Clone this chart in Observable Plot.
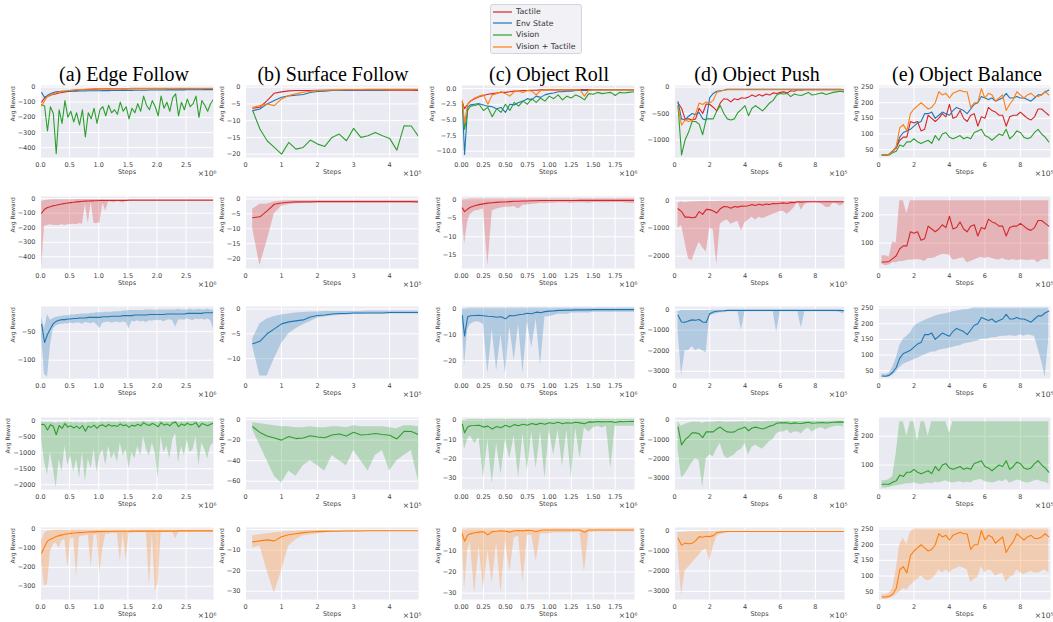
<!DOCTYPE html>
<html><head><meta charset="utf-8">
<script src="https://cdn.jsdelivr.net/npm/d3@7"></script>
<script src="https://cdn.jsdelivr.net/npm/@observablehq/plot@0.6"></script>
<style>
body{margin:0;background:#fff;}
#root{position:relative;width:1053px;height:622px;overflow:hidden;font-family:"DejaVu Sans",sans-serif;}
.panel{position:absolute;}
.title{position:absolute;width:300px;text-align:center;font-family:"Liberation Serif","Times New Roman",serif;font-size:20px;line-height:20px;color:#000;white-space:nowrap;}
#legend{position:absolute;left:490px;top:4px;width:90px;height:48px;border:1px solid #d4d4dc;border-radius:3px;background:#f1f1f6;}
.lg{position:absolute;left:2px;height:10px;font-size:7.8px;color:#333;white-space:nowrap;line-height:10px;}
.lg svg{vertical-align:middle;margin-right:4px;}
</style></head><body><div id="root"></div>
<script>
// ---------- categories ----------
const modalities = ["Tactile", "Env State", "Vision", "Vision + Tactile"];
const colors = ["#d62728", "#1f77b4", "#2ca02c", "#ff7f0e"];
const taskTitles = ["(a) Edge Follow", "(b) Surface Follow", "(c) Object Roll", "(d) Object Push", "(e) Object Balance"];

// ---------- Edge Follow (steps x10^6) ----------
const edgeSteps = [0.02,0.07,0.12,0.17,0.22,0.27,0.32,0.37,0.42,0.47,0.52,0.57,0.62,0.67,0.72,0.77,0.82,0.87,0.92,0.97,1.02,1.07,1.12,1.17,1.22,1.27,1.32,1.37,1.42,1.47,1.52,1.57,1.62,1.67,1.72,1.77,1.82,1.87,1.92,1.97,2.02,2.07,2.12,2.17,2.22,2.27,2.32,2.37,2.42,2.47,2.52,2.57,2.62,2.67,2.72,2.77,2.82,2.87,2.92,2.97];
const edgeTactileMean = [-100,-72,-60,-55,-48,-45,-40,-36,-33,-30,-27,-25,-22,-20,-18,-17,-16,-15,-14,-14,-13,-13,-13,-12,-12,-12,-12,-12,-12,-12,-11,-11,-11,-11,-11,-11,-11,-11,-11,-11,-11,-11,-11,-11,-11,-11,-11,-11,-11,-11,-11,-11,-11,-11,-11,-11,-11,-11,-11,-11];
const edgeTactileLo = [-470,-190,-185,-180,-185,-185,-185,-180,-185,-180,-180,-175,-180,-170,-175,-40,-170,-25,-170,-170,-165,-30,-85,-20,-25,-30,-18,-25,-30,-20,-18,-16,-16,-15,-15,-15,-15,-15,-15,-15,-14,-14,-14,-14,-14,-14,-14,-14,-14,-14,-14,-14,-14,-14,-14,-14,-14,-14,-14,-14];
const edgeTactileHi = [-20,-12,-10,-9,-8,-8,-7,-7,-7,-7,-7,-7,-6,-6,-6,-6,-6,-6,-6,-6,-6,-6,-6,-6,-6,-6,-6,-6,-6,-6,-6,-6,-6,-6,-6,-6,-6,-6,-6,-6,-6,-6,-6,-6,-6,-6,-6,-6,-6,-6,-6,-6,-6,-6,-6,-6,-6,-6,-6,-6];
const edgeEnvMean = [-37,-69,-55,-45,-36,-32,-30,-29,-29,-28,-28,-27,-27,-26,-26,-26,-25,-25,-25,-25,-25,-24,-24,-24,-23,-23,-23,-23,-22,-22,-22,-22,-21,-21,-21,-21,-21,-20,-20,-20,-20,-20,-20,-19,-19,-19,-19,-19,-19,-19,-18,-18,-18,-18,-18,-18,-17,-17,-17,-17];
const edgeEnvLo = [-60,-125,-130,-75,-45,-40,-38,-37,-36,-36,-35,-36,-35,-35,-37,-34,-35,-36,-34,-38,-45,-35,-34,-33,-35,-34,-33,-35,-33,-34,-45,-32,-33,-31,-33,-32,-34,-31,-32,-30,-31,-30,-33,-30,-29,-31,-42,-30,-29,-30,-28,-29,-31,-28,-29,-28,-30,-28,-30,-45];
const edgeEnvHi = [-25,-45,-20,-30,-27,-25,-24,-23,-22,-22,-21,-21,-20,-20,-19,-19,-19,-18,-18,-17,-17,-17,-16,-16,-16,-15,-15,-15,-14,-14,-13,-13,-13,-13,-13,-13,-12,-12,-12,-13,-12,-12,-12,-12,-12,-12,-12,-11,-12,-12,-12,-11,-12,-12,-11,-12,-12,-11,-12,-12];
const edgeVisionMean = [-115,-125,-290,-130,-175,-440,-150,-240,-90,-200,-160,-230,-170,-250,-150,-330,-170,-210,-140,-240,-150,-130,-190,-120,-170,-150,-180,-100,-160,-130,-210,-140,-170,-110,-160,-60,-120,-150,-90,-130,-190,-60,-140,-100,-160,-70,-45,-190,-100,-150,-80,-130,-110,-60,-200,-90,-120,-160,-110,-80];
const edgeVisionLo = [-600,-1300,-1700,-1000,-1500,-2100,-1200,-1600,-800,-1400,-1100,-1600,-1200,-1800,-1000,-1900,-1200,-1500,-900,-1600,-1100,-900,-1400,-800,-1200,-1000,-1300,-700,-1100,-900,-1500,-1000,-1200,-800,-1100,-500,-900,-1100,-700,-1000,-1800,-500,-1000,-800,-1200,-600,-400,-1300,-800,-1100,-600,-1000,-900,-500,-1400,-700,-900,-1200,-800,-700];
const edgeVisionHi = [-40,-50,-60,-45,-60,-80,-50,-70,-30,-60,-50,-70,-50,-80,-45,-90,-55,-60,-40,-70,-45,-40,-60,-35,-50,-45,-55,-30,-50,-40,-60,-45,-50,-35,-50,-20,-40,-45,-30,-40,-55,-20,-45,-30,-50,-25,-15,-55,-35,-45,-25,-40,-35,-20,-55,-30,-40,-50,-35,-30];
const edgeVTMean = [-125,-90,-62,-52,-45,-38,-33,-29,-26,-23,-21,-19,-18,-17,-16,-15,-14,-13,-13,-12,-12,-11,-11,-11,-10,-10,-10,-10,-10,-10,-10,-9,-9,-9,-9,-9,-9,-9,-9,-9,-9,-9,-9,-9,-9,-9,-9,-8,-8,-8,-8,-8,-8,-8,-8,-8,-8,-8,-8,-8];
const edgeVTLo = [-170,-300,-290,-120,-80,-70,-100,-60,-55,-200,-50,-45,-250,-40,-35,-35,-30,-200,-30,-28,-230,-100,-25,-25,-22,-22,-22,-170,-20,-160,-20,-20,-18,-18,-18,-18,-18,-300,-18,-330,-280,-18,-16,-16,-16,-16,-50,-16,-16,-15,-15,-15,-15,-15,-15,-15,-15,-15,-15,-15];
const edgeVTHi = [-60,-20,-10,-8,-6,-5,-5,-4,-4,-4,-3,-3,-3,-3,-3,-3,-3,-3,-3,-3,-3,-3,-3,-3,-3,-3,-3,-3,-3,-3,-3,-3,-3,-3,-3,-3,-3,-3,-3,-3,-3,-3,-3,-3,-3,-3,-3,-3,-3,-3,-3,-3,-3,-3,-3,-3,-3,-3,-3,-3];

// ---------- Surface Follow (steps x10^5) ----------
const surfSteps = [0.2,0.4,0.6,0.8,1.0,1.2,1.4,1.6,1.8,2.0,2.2,2.4,2.6,2.8,3.0,3.2,3.4,3.6,3.8,4.0,4.2,4.4,4.6,4.8];
const surfTactileMean = [-6.3,-6.0,-4.0,-1.8,-1.4,-1.1,-1.0,-1.0,-1.0,-0.9,-0.9,-0.9,-0.9,-0.9,-0.9,-0.9,-0.9,-0.9,-0.9,-0.9,-0.9,-0.9,-0.9,-1.0];
const surfTactileLo = [-10,-22.3,-14,-5,-2.5,-2,-1.6,-1.5,-1.4,-1.3,-1.3,-1.3,-1.3,-1.3,-1.3,-1.3,-1.3,-1.3,-1.3,-1.3,-1.3,-1.3,-1.3,-1.4];
const surfTactileHi = [-3.5,-1.8,-1.7,-1.0,-0.7,-0.6,-0.6,-0.6,-0.6,-0.6,-0.6,-0.6,-0.6,-0.6,-0.6,-0.6,-0.6,-0.6,-0.6,-0.6,-0.6,-0.6,-0.6,-0.6];
const surfEnvMean = [-7.0,-6.5,-5.0,-4.0,-3.0,-2.6,-2.4,-2.2,-1.6,-1.3,-1.2,-1.0,-0.9,-0.9,-0.8,-0.8,-0.8,-0.8,-0.8,-0.7,-0.7,-0.7,-0.7,-0.7];
const surfEnvLo = [-7.5,-13.5,-13.5,-10,-7,-5,-4,-3.2,-2.5,-1.8,-1.6,-1.4,-1.3,-1.2,-1.1,-1.1,-1.0,-1.0,-1.0,-1.0,-1.0,-1.0,-1.0,-1.0];
const surfEnvHi = [-6.0,-3.0,-2.0,-1.5,-1.2,-1.0,-0.8,-0.7,-0.6,-0.6,-0.5,-0.5,-0.5,-0.5,-0.5,-0.5,-0.4,-0.4,-0.4,-0.4,-0.4,-0.4,-0.4,-0.4];
const surfVisionMean = [-7,-12.5,-16,-18,-20,-16.5,-18.5,-18,-15.8,-17,-17.7,-15,-14,-16,-12.3,-15,-14.5,-13.5,-14.5,-15.3,-18.8,-11.5,-11.6,-14.7];
const surfVisionLo = [-10,-25,-40,-55,-62,-50,-55,-45,-40,-45,-50,-35,-40,-45,-30,-40,-50,-35,-30,-50,-40,-35,-30,-60];
const surfVisionHi = [-3,-4,-5,-6,-7,-7,-8,-8,-7,-8,-8,-7,-7,-8,-6,-7,-7,-7,-7,-8,-9,-6,-6,-7];
const surfVTMean = [-6,-5.5,-5,-5.5,-3.5,-2.5,-2,-1.5,-1.2,-1.0,-0.9,-0.8,-0.8,-0.7,-0.7,-0.7,-0.6,-0.6,-0.6,-0.6,-0.6,-0.6,-0.6,-0.6];
const surfVTLo = [-9,-8,-20,-31,-20,-8,-5,-3,-2.5,-2,-1.6,-1.4,-1.3,-1.2,-1.1,-1.0,-1.0,-1.0,-1.0,-1.0,-0.9,-0.9,-0.9,-0.9];
const surfVTHi = [-3,-2.5,-2,-1.5,-1.2,-1,-0.8,-0.6,-0.5,-0.5,-0.4,-0.4,-0.4,-0.3,-0.3,-0.3,-0.3,-0.3,-0.3,-0.3,-0.3,-0.3,-0.3,-0.3];

// ---------- Object Roll (steps x10^6) ----------
const rollSteps = [0.01,0.035,0.07,0.1,0.15,0.2,0.25,0.3,0.35,0.4,0.45,0.5,0.55,0.6,0.65,0.7,0.75,0.8,0.85,0.9,0.95,1.0,1.05,1.1,1.15,1.2,1.25,1.3,1.35,1.4,1.45,1.5,1.55,1.6,1.65,1.7,1.75,1.8,1.85,1.9,1.97];
const rollTactileMean = [-2.2,-3.2,-2.5,-2.0,-1.6,-1.3,-1.1,-0.9,-0.8,-0.7,-0.6,-0.6,-0.5,-0.4,-0.4,-0.3,-0.3,-0.25,-0.25,-0.2,-0.2,-0.2,-0.2,-0.2,-0.2,-0.2,-0.2,-0.2,-0.15,-0.15,-0.15,-0.15,-0.15,-0.15,-0.15,-0.15,-0.15,-0.15,-0.15,-0.15,-0.15];
const rollTactileLo = [-5,-12,-6,-4,-3,-2.8,-2.5,-18,-3,-2.5,-2.2,-2,-2,-1.8,-2.5,-1.5,-1.4,-1.2,-1.1,-0.9,-1.0,-0.9,-0.9,-0.8,-0.8,-0.8,-1.0,-0.8,-0.8,-0.8,-0.9,-0.8,-0.7,-0.8,-0.8,-0.7,-0.8,-0.7,-0.8,-0.9,-1.0];
const rollTactileHi = [0,0,0.1,0.2,0.2,0.2,0.2,0.2,0.2,0.2,0.2,0.2,0.2,0.2,0.2,0.2,0.2,0.2,0.2,0.2,0.2,0.2,0.2,0.2,0.2,0.2,0.2,0.2,0.2,0.2,0.2,0.2,0.2,0.2,0.2,0.2,0.2,0.2,0.2,0.2,0.2];
const rollEnvMean = [-2.5,-10.5,-3,-2.6,-2.5,-2.4,-2.6,-2.8,-2.9,-3.2,-3.0,-3.8,-2.5,-2.6,-2.2,-2.0,-1.6,-1.8,-1.2,-1.4,-1.0,-0.8,-0.7,-0.5,-0.5,-0.4,-0.4,-0.3,-0.3,-0.3,-0.3,-0.2,-0.2,-0.2,-0.2,-0.2,-0.2,-0.2,-0.2,-0.2,-0.2];
const rollEnvLo = [-5,-22,-8,-6,-5,-5,-6,-25,-8,-24,-10,-25,-7,-20,-6,-25,-5,-15,-4,-22,-3,-3,-2.5,-2,-2,-2,-1.5,-1.5,-1.5,-1.5,-1.5,-1.2,-1.2,-1.2,-1.2,-1.2,-1.2,-1.2,-1.2,-1.2,-1.2];
const rollEnvHi = [0,0,0.2,0.3,0.3,0.3,0.3,0.3,0.3,0.3,0.3,0.3,0.3,0.3,0.3,0.3,0.3,0.3,0.3,0.3,0.3,0.3,0.3,0.3,0.3,0.3,0.3,0.3,0.3,0.3,0.3,0.3,0.3,0.3,0.3,0.3,0.3,0.3,0.3,0.3,0.3];
const rollVisionMean = [-2,-6.5,-3.5,-2.8,-2.7,-2.5,-3.5,-3,-4.5,-3.2,-3.8,-2.5,-3.5,-2.2,-2.8,-2,-2.5,-1.6,-2.2,-1.5,-2,-1.2,-1.6,-1.0,-1.8,-1.2,-1.5,-1.0,-1.3,-1.8,-0.8,-0.9,-0.6,-0.8,-0.7,-0.6,-1.1,-0.6,-0.7,-0.6,-0.5];
const rollVisionLo = [-6,-15,-10,-8,-12,-9,-30,-10,-33,-12,-28,-10,-20,-8,-30,-7,-26,-6,-25,-6,-30,-5,-18,-5,-24,-5,-30,-4,-20,-4,-6,-4,-3,-4,-3,-25,-3,-3,-3,-3,-3];
const rollVisionHi = [0,0,0.3,0.5,0.5,0.5,0.5,0.5,0.5,0.5,0.5,0.5,0.5,0.5,0.5,0.5,0.5,0.5,0.5,0.5,0.5,0.5,0.5,0.5,0.5,0.5,0.5,0.5,0.5,0.5,0.5,0.5,0.5,0.5,0.5,0.5,0.5,0.5,0.5,0.5,0.5];
const rollVTMean = [-2,-5.5,-2.5,-2,-1.5,-1.2,-1.0,-2.5,-1.0,-0.8,-0.5,-0.8,-1.2,-0.5,-0.4,-0.6,-0.3,-0.4,-1.0,-0.3,-0.2,-0.2,-0.2,-0.2,-0.2,-0.2,-0.2,-0.2,-0.2,-1.2,-0.2,-0.2,-0.2,-0.2,-0.2,-0.2,-0.2,-0.2,-0.2,-0.2,-0.2];
const rollVTLo = [-4,-28,-10,-6,-30,-8,-28,-10,-25,-6,-30,-5,-20,-4,-3,-25,-3,-2.5,-15,-2,-2,-2,-1.5,-1.5,-1.5,-1.5,-1.5,-1.2,-1.2,-20,-1.2,-1.2,-1,-1,-1,-1,-1,-1,-1,-1,-1];
const rollVTHi = [0,0,0.2,0.3,0.3,0.3,0.3,0.3,0.3,0.3,0.3,0.3,0.3,0.3,0.3,0.3,0.3,0.3,0.3,0.3,0.3,0.3,0.3,0.3,0.3,0.3,0.3,0.3,0.3,0.3,0.3,0.3,0.3,0.3,0.3,0.3,0.3,0.3,0.3,0.3,0.3];

// ---------- Object Push (steps x10^5) ----------
const pushSteps = [0.2,0.4,0.6,0.8,1.0,1.2,1.4,1.6,1.8,2.0,2.2,2.4,2.6,2.8,3.0,3.2,3.4,3.6,3.8,4.0,4.2,4.4,4.6,4.8,5.0,5.2,5.4,5.6,5.8,6.0,6.2,6.4,6.6,6.8,7.0,7.2,7.4,7.6,7.8,8.0,8.2,8.4,8.6,8.8,9.0,9.2,9.4,9.6];
const pushTactileMean = [-300,-400,-600,-600,-620,-600,-400,-500,-320,-330,-380,-450,-300,-220,-230,-280,-220,-240,-200,-210,-190,-150,-180,-140,-170,-130,-150,-110,-120,-100,-90,-110,-70,-80,-50,-60,-50,-50,-50,-50,-50,-50,-50,-50,-50,-50,-50,-50];
const pushTactileLo = [-1000,-900,-1500,-2100,-2150,-1800,-1500,-1700,-1850,-1000,-1050,-2300,-850,-750,-700,-850,-800,-750,-1100,-800,-700,-600,-700,-600,-650,-600,-550,-500,-450,-400,-400,-500,-400,-250,-50,-350,-150,-100,-80,-80,-100,-150,-250,-250,-100,-120,-200,-150];
const pushTactileHi = [-100,-50,-80,-60,-60,-50,-50,-40,-40,-40,-40,-40,-30,-30,-30,-30,-30,-30,-30,-30,-30,-30,-30,-30,-30,-30,-30,-30,-30,-30,-30,-30,-30,-30,-20,-20,-20,-20,-20,-20,-20,-20,-20,-20,-20,-20,-20,-20];
const pushEnvMean = [-280,-600,-620,-550,-500,-520,-480,-600,-620,-200,-120,-80,-70,-60,-40,-40,-40,-40,-40,-40,-40,-40,-40,-40,-40,-40,-40,-40,-40,-40,-40,-40,-40,-40,-40,-40,-40,-40,-40,-40,-40,-40,-40,-40,-40,-40,-40,-50];
const pushEnvLo = [-1000,-3200,-2000,-2000,-1800,-2000,-1900,-2000,-2100,-300,-250,-200,-150,-150,-120,-100,-100,-100,-1000,-100,-100,-100,-100,-100,-100,-100,-100,-100,-1100,-100,-100,-100,-100,-100,-100,-900,-100,-100,-100,-100,-100,-100,-100,-100,-100,-100,-150,-200];
const pushEnvHi = [-100,-50,-50,-50,-50,-50,-50,-50,-50,-30,-20,-20,-20,-20,-20,-20,-20,-20,-20,-20,-20,-20,-20,-20,-20,-20,-20,-20,-20,-20,-20,-20,-20,-20,-20,-20,-20,-20,-20,-20,-20,-20,-20,-20,-20,-20,-20,-20];
const pushVisionMean = [-350,-1280,-1000,-850,-650,-650,-700,-900,-600,-600,-600,-450,-350,-500,-600,-620,-600,-480,-420,-350,-540,-400,-350,-400,-450,-380,-300,-250,-150,-120,-130,-120,-180,-130,-150,-160,-130,-100,-150,-140,-120,-110,-140,-120,-100,-90,-80,-90];
const pushVisionLo = [-1500,-3000,-2800,-2500,-2200,-2000,-2100,-3500,-2000,-1800,-1900,-1500,-1200,-1800,-2000,-1900,-1800,-1600,-1500,-1200,-1800,-1400,-1300,-1400,-1500,-1300,-1100,-1000,-700,-600,-600,-500,-700,-600,-600,-700,-500,-400,-600,-500,-400,-400,-500,-400,-350,-300,-300,-350];
const pushVisionHi = [-100,-300,-200,-150,-100,-100,-100,-150,-100,-100,-100,-80,-60,-100,-100,-100,-100,-80,-80,-60,-100,-80,-60,-60,-80,-60,-50,-40,-40,-40,-40,-30,-40,-40,-40,-40,-30,-30,-30,-30,-30,-30,-30,-30,-30,-30,-30,-30];
const pushVTMean = [-380,-720,-620,-650,-630,-500,-300,-330,-280,-300,-250,-100,-80,-60,-50,-50,-50,-50,-50,-50,-50,-50,-50,-50,-50,-50,-50,-50,-50,-50,-50,-50,-50,-50,-50,-50,-50,-50,-50,-50,-50,-50,-50,-50,-50,-50,-50,-50];
const pushVTLo = [-1000,-3200,-2000,-1800,-1600,-1400,-1200,-1000,-900,-1500,-800,-300,-200,-150,-120,-100,-100,-100,-100,-100,-100,-100,-100,-100,-100,-100,-100,-100,-100,-100,-100,-100,-100,-100,-100,-100,-100,-100,-100,-100,-100,-100,-100,-100,-100,-100,-100,-100];
const pushVTHi = [-100,-100,-80,-60,-60,-50,-50,-40,-40,-40,-30,-30,-20,-20,-20,-20,-20,-20,-20,-20,-20,-20,-20,-20,-20,-20,-20,-20,-20,-20,-20,-20,-20,-20,-20,-20,-20,-20,-20,-20,-20,-20,-20,-20,-20,-20,-20,-20];

// ---------- Object Balance (steps x10^5) ----------
const balSteps = [0.2,0.4,0.6,0.8,1.0,1.2,1.4,1.6,1.8,2.0,2.2,2.4,2.6,2.8,3.0,3.2,3.4,3.6,3.8,4.0,4.2,4.4,4.6,4.8,5.0,5.2,5.4,5.6,5.8,6.0,6.2,6.4,6.6,6.8,7.0,7.2,7.4,7.6,7.8,8.0,8.2,8.4,8.6,8.8,9.0,9.2,9.4,9.6];
const balTactileMean = [33,33,35,45,55,80,90,90,140,135,140,110,115,160,150,140,150,165,155,195,150,155,175,150,140,160,165,125,155,150,185,175,170,160,160,125,155,160,160,170,160,150,145,155,180,180,170,160];
const balTactileLo = [25,20,22,30,30,35,35,38,40,40,42,40,35,45,45,48,55,60,60,58,40,42,45,48,30,35,40,45,50,45,50,45,42,40,45,40,38,42,38,40,40,38,40,40,30,40,42,40];
const balTactileHi = [55,55,50,105,100,250,250,205,250,250,250,250,250,250,250,250,250,250,250,250,250,250,250,250,250,250,250,250,250,250,250,250,250,250,250,250,250,250,250,250,250,250,250,250,250,250,250,250];
const balEnvMean = [33,32,35,45,60,90,105,110,115,125,135,140,165,165,170,150,160,170,165,160,175,185,180,175,165,180,195,200,220,215,210,215,205,210,215,230,215,215,220,215,215,210,205,215,225,225,235,240];
const balEnvLo = [28,28,30,35,45,60,70,75,80,85,90,95,100,105,110,110,115,118,120,122,125,128,130,135,138,140,142,145,150,150,152,155,155,158,160,160,162,160,160,165,160,165,162,160,120,80,30,150];
const balEnvHi = [40,38,42,60,90,130,150,160,170,190,200,205,210,215,220,225,228,230,232,235,238,240,242,245,245,248,250,250,250,250,250,250,250,250,250,250,250,250,250,250,250,250,250,250,250,250,250,250];
const balVisionMean = [33,33,33,40,45,65,60,75,75,85,75,70,75,80,70,95,80,100,105,90,85,90,95,85,90,85,105,110,115,95,90,80,90,100,95,115,85,95,110,105,90,85,90,105,115,100,90,75];
const balVisionLo = [20,20,22,25,28,30,32,35,35,38,35,32,35,38,35,40,38,42,45,40,38,40,42,38,40,38,45,48,50,42,40,38,40,45,42,50,38,42,48,45,40,38,40,45,48,42,40,35];
const balVisionHi = [45,45,50,60,140,250,250,200,250,250,180,250,250,200,250,250,250,250,250,210,250,250,250,250,250,250,250,250,250,250,250,250,250,250,250,250,250,250,250,250,250,250,250,250,250,250,250,250];
const balVTMean = [33,33,35,42,60,120,130,110,165,180,190,200,190,180,185,200,235,225,230,215,230,235,240,235,235,185,200,200,245,215,230,225,205,215,225,175,195,210,235,225,215,225,230,220,220,225,235,225];
const balVTLo = [25,25,28,32,40,50,60,55,70,80,90,100,90,85,90,100,120,110,120,110,120,125,130,125,120,80,90,95,130,110,120,115,100,105,110,80,95,100,120,110,105,110,115,110,110,115,120,110];
const balVTHi = [40,40,45,60,120,200,220,200,240,250,250,250,250,250,250,250,250,250,250,250,250,250,250,250,250,250,250,250,250,250,250,250,250,250,250,250,250,250,250,250,250,250,250,250,250,250,250,250];

// ---------- tick labels ----------
const xTickSets = [[0,0.5,1,1.5,2,2.5],[0,1,2,3,4],[0,0.25,0.5,0.75,1,1.25,1.5,1.75],[0,2,4,6,8],[0,2,4,6,8]];
const xTickFormats = [".1f","d",".2f","d","d"];
const xExponents = ["×10⁶","×10⁵","×10⁶","×10⁵","×10⁵"];
const xMax = [2.97, 4.8, 1.97, 9.65, 9.7];
const yTickSets = [
  [[0,-100,-200,-300,-400],[0,-5,-10,-15,-20],[0,-2.5,-5,-7.5,-10],[0,-500,-1000],[50,100,150,200,250]],
  [[0,-100,-200,-300,-400],[0,-5,-10,-15,-20],[0,-5,-10,-15],[0,-1000,-2000],[100,200]],
  [[-50,-100],[0,-5,-10],[0,-10,-20],[0,-1000,-2000,-3000],[50,100,150,200,250]],
  [[0,-500,-1000,-1500,-2000],[0,-20,-40,-60],[0,-10,-20,-30],[0,-1000,-2000,-3000],[100,200]],
  [[0,-100,-200,-300],[0,-10,-20,-30],[0,-10,-20,-30],[0,-1000,-2000,-3000],[50,100,150,200,250]]
];
const yDomains = [
  [[-465,10],[-21,0.5],[-11,0.5],[-1330,30],[25,255]],
  [[-480,15],[-23.3,0.8],[-18.6,0.9],[-2440,140],[10,265]],
  [[-132,-6],[-14,0.5],[-27,1],[-3350,150],[25,255]],
  [[-2150,100],[-68,2],[-36,1.5],[-3600,150],[15,265]],
  [[-370,10],[-34,1],[-33,1],[-3400,150],[25,255]]
];

// ---------- assemble tables ----------
const taskData = [
  {steps: edgeSteps, s: [[edgeTactileMean,edgeTactileLo,edgeTactileHi],[edgeEnvMean,edgeEnvLo,edgeEnvHi],[edgeVisionMean,edgeVisionLo,edgeVisionHi],[edgeVTMean,edgeVTLo,edgeVTHi]]},
  {steps: surfSteps, s: [[surfTactileMean,surfTactileLo,surfTactileHi],[surfEnvMean,surfEnvLo,surfEnvHi],[surfVisionMean,surfVisionLo,surfVisionHi],[surfVTMean,surfVTLo,surfVTHi]]},
  {steps: rollSteps, s: [[rollTactileMean,rollTactileLo,rollTactileHi],[rollEnvMean,rollEnvLo,rollEnvHi],[rollVisionMean,rollVisionLo,rollVisionHi],[rollVTMean,rollVTLo,rollVTHi]]},
  {steps: pushSteps, s: [[pushTactileMean,pushTactileLo,pushTactileHi],[pushEnvMean,pushEnvLo,pushEnvHi],[pushVisionMean,pushVisionLo,pushVisionHi],[pushVTMean,pushVTLo,pushVTHi]]},
  {steps: balSteps, s: [[balTactileMean,balTactileLo,balTactileHi],[balEnvMean,balEnvLo,balEnvHi],[balVisionMean,balVisionLo,balVisionHi],[balVTMean,balVTLo,balVTHi]]}
];
function table(col, mod) {
  const T = taskData[col], [m, lo, hi] = T.s[mod];
  return T.steps.map((x, i) => ({x, m: m[i], lo: lo[i], hi: hi[i], mod: modalities[mod]}));
}

// ---------- layout ----------
const colLeft = [40, 245, 461, 674, 878];
const colWidth = [173, 173, 173, 170, 172];
const rowTop = [85, 195.5, 306, 416.5, 527];
const frameH = 72;
const titleCenter = [124, 333, 549, 757, 967];
const ML = 46, MR = 16, MT = 6, MB = 28;
const TICK_FONT = "DejaVu Sans";
const ctx = document.createElement("canvas").getContext("2d");
ctx.font = `6.5px "${TICK_FONT}"`;

const root = document.getElementById("root");

function drawPanel(row, col) {
  const yt = yTickSets[row][col];
  const yfmt = (col === 2 && row === 0) ? d3.format(".1f") : d3.format("d");
  const xfmt = d3.format(xTickFormats[col]);
  const maxW = d3.max(yt, t => ctx.measureText(yfmt(t)).width);
  const marks = [
    Plot.frame({fill: "#EAEAF2", stroke: null}),
    Plot.gridX(xTickSets[col], {stroke: "#fff", strokeOpacity: 1, strokeWidth: 1}),
    Plot.gridY(yt, {stroke: "#fff", strokeOpacity: 1, strokeWidth: 1}),
    Plot.axisX(xTickSets[col], {tickSize: 0, tickPadding: 5, tickFormat: xfmt, fill: "#444", fontSize: 6.5, label: null}),
    Plot.axisY(yt, {tickSize: 0, tickPadding: 5, tickFormat: yfmt, fill: "#444", fontSize: 6.5, label: null})
  ];
  if (row === 0) {
    for (let k = 0; k < 4; k++) {
      marks.push(Plot.line(table(col, k), {x: "x", y: "m", stroke: colors[k], strokeWidth: 1.1, clip: true}));
    }
  } else {
    const k = row - 1;
    const t = table(col, k);
    marks.push(Plot.areaY(t, {x: "x", y1: "lo", y2: "hi", fill: colors[k], fillOpacity: 0.28, clip: true}));
    marks.push(Plot.line(t, {x: "x", y: "m", stroke: colors[k], strokeWidth: 1.1, clip: true}));
  }
  marks.push(Plot.text(["Steps"], {text: d => d, frameAnchor: "bottom", dy: 16, fontSize: 6.5, fill: "#444"}));
  marks.push(Plot.text([xExponents[col]], {text: d => d, frameAnchor: "bottom-right", textAnchor: "end", dy: 18.5, dx: 3, fontSize: 7.5, fill: "#444"}));
  marks.push(Plot.text(["Avg Reward"], {text: d => d, frameAnchor: "left", rotate: -90, dx: -(5 + maxW + 5), fontSize: 6, fill: "#444"}));

  const svg = Plot.plot({
    width: ML + colWidth[col] + MR,
    height: MT + frameH + MB,
    marginLeft: ML, marginRight: MR, marginTop: MT, marginBottom: MB,
    x: {domain: [0, xMax[col]], label: null},
    y: {domain: yDomains[row][col], label: null},
    style: {background: "transparent", fontFamily: TICK_FONT, overflow: "visible"},
    marks
  });
  const div = document.createElement("div");
  div.className = "panel";
  div.style.left = (colLeft[col] - ML) + "px";
  div.style.top = (rowTop[row] - MT) + "px";
  div.style.width = (ML + colWidth[col] + MR) + "px";
  div.appendChild(svg);
  root.appendChild(div);
}

for (let r = 0; r < 5; r++) for (let c = 0; c < 5; c++) drawPanel(r, c);

// titles
taskTitles.forEach((t, c) => {
  const d = document.createElement("div");
  d.className = "title";
  d.textContent = t;
  d.style.left = (titleCenter[c] - 150) + "px";
  d.style.top = "64px";
  root.appendChild(d);
});

// legend
const lg = document.createElement("div");
lg.id = "legend";
modalities.forEach((m, k) => {
  const e = document.createElement("div");
  e.className = "lg";
  e.style.top = (2 + k * 11.6) + "px";
  e.innerHTML = `<svg width="19" height="6"><line x1="0" x2="19" y1="3" y2="3" stroke="${colors[k]}" stroke-width="1.2"/></svg>${m}`;
  lg.appendChild(e);
});
root.appendChild(lg);
</script>
</body></html>
